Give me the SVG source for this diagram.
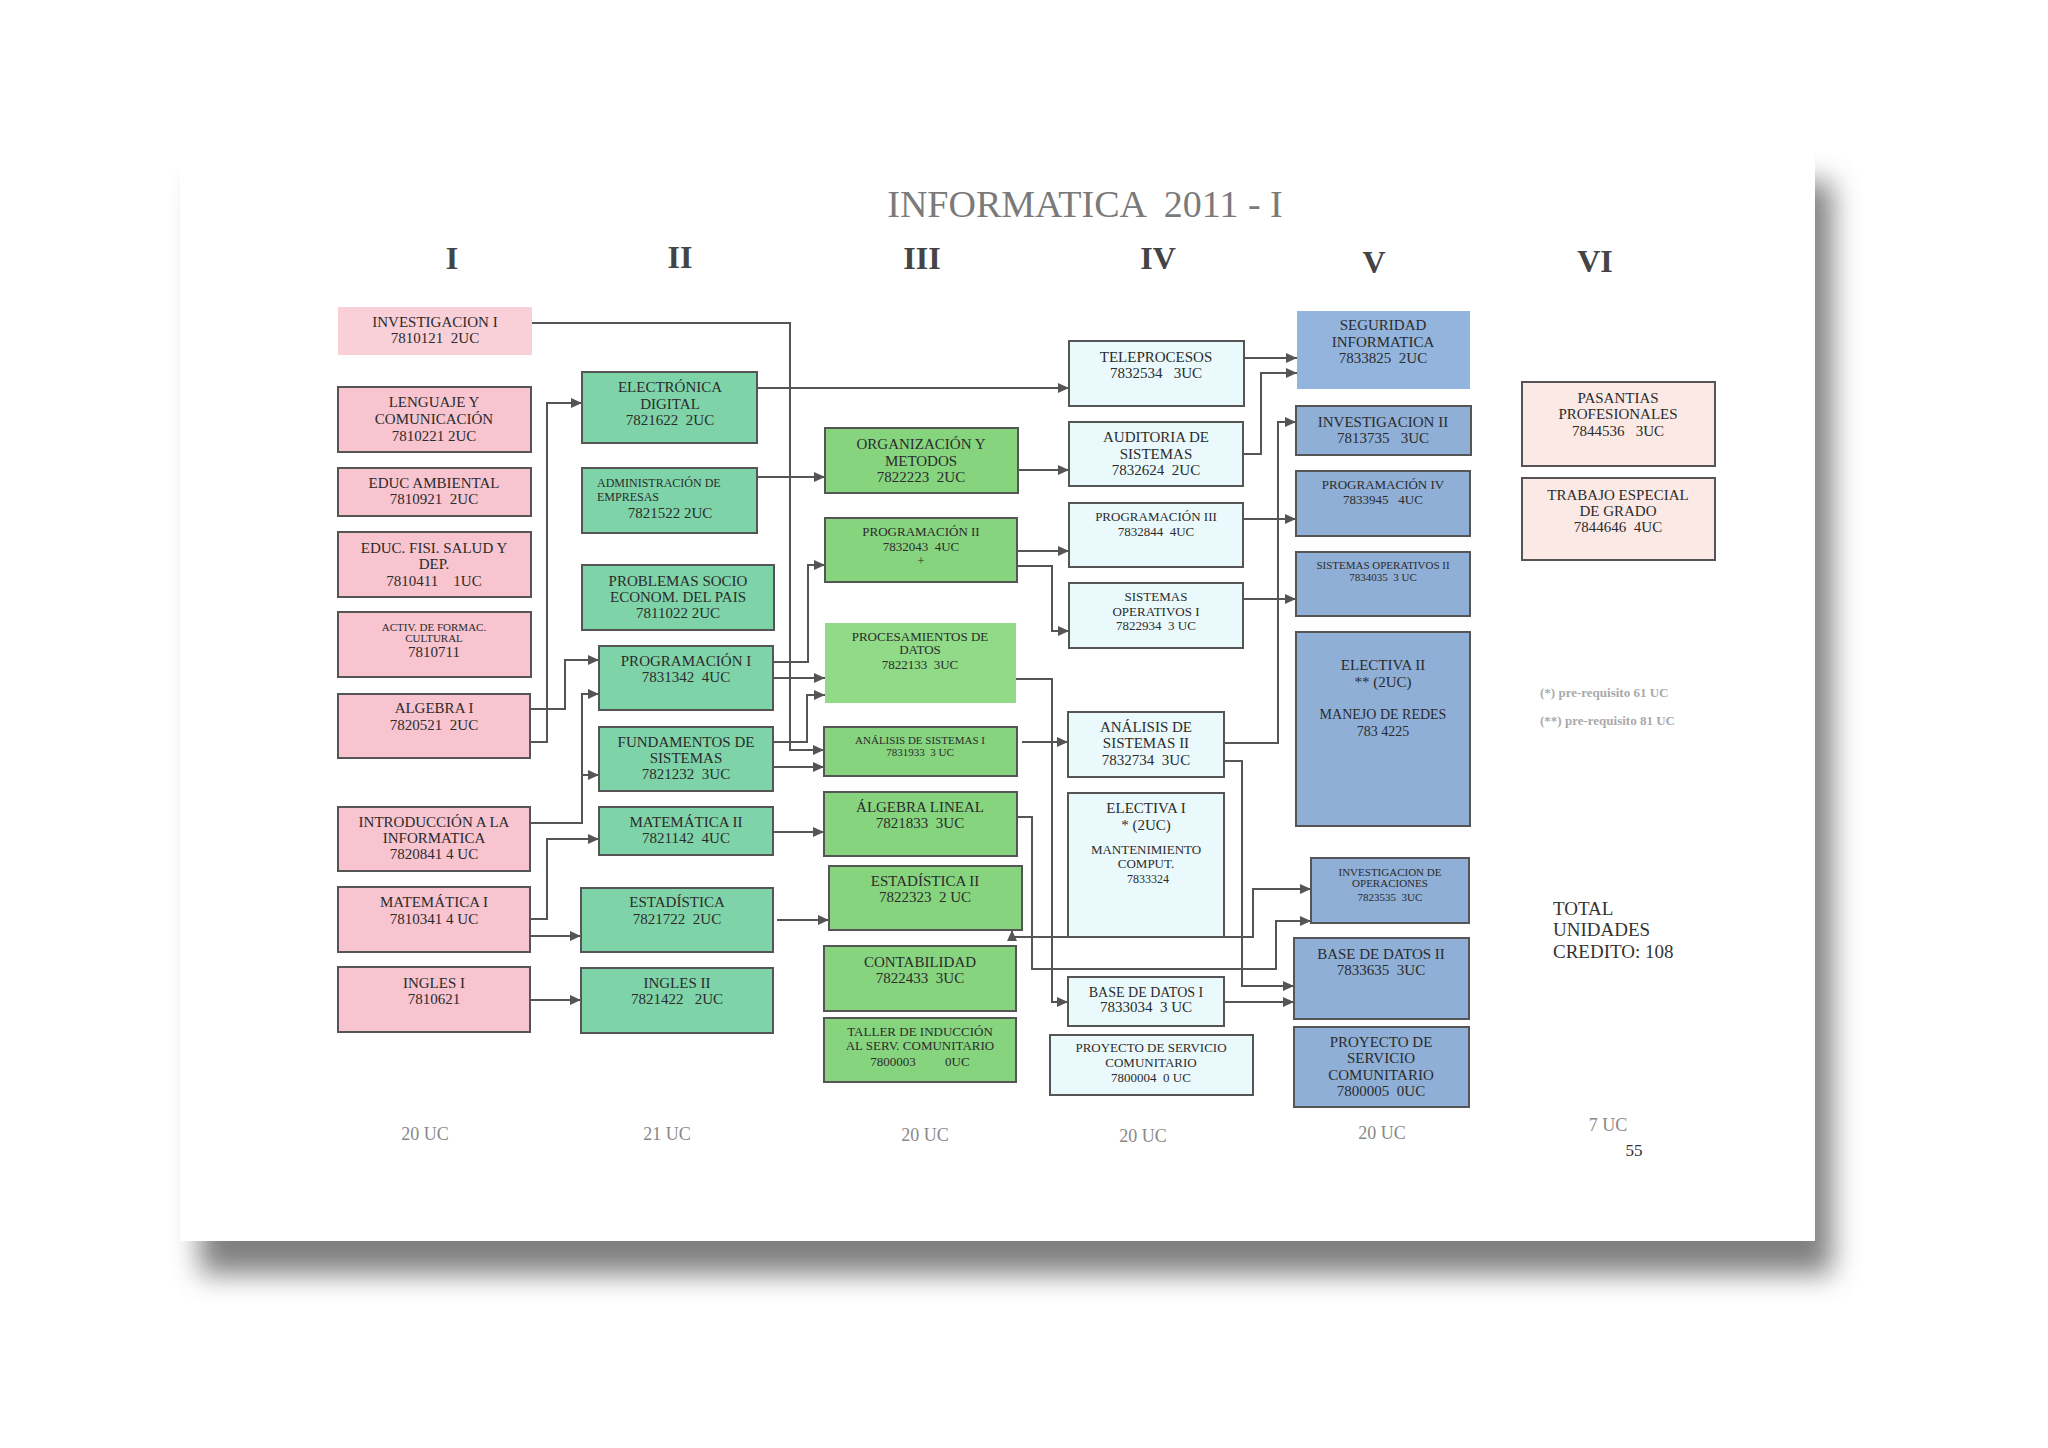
<svg xmlns="http://www.w3.org/2000/svg" width="2048" height="1448" viewBox="0 0 2048 1448">
<style>
.t{font-family:"Liberation Serif","Times New Roman",serif;fill:#2b2b2b;text-anchor:middle;font-size:15px}
.s13{font-size:13px}.s11{font-size:11px}.s12{font-size:12px}.s14{font-size:14px}
.l{text-anchor:start}
.b{stroke:#555;stroke-width:2}
.pk{fill:#f7c4cf}.g2{fill:#7fd3a8}.g3{fill:#87d47f}.cy{fill:#eaf9fb}.bl{fill:#8fafd7}.pe{fill:#fbe9e6}
.c{fill:none;stroke:#555;stroke-width:2}
.uc{font-family:"Liberation Serif","Times New Roman",serif;fill:#888;font-size:18px;text-anchor:middle}
.hd{font-family:"Liberation Serif","Times New Roman",serif;fill:#444;font-size:32px;font-weight:bold;text-anchor:middle}
</style>
<defs>
<marker id="ar" markerUnits="userSpaceOnUse" markerWidth="12" markerHeight="10" refX="11" refY="5" orient="auto-start-reverse"><path d="M0 0 L11 5 L0 10 Z" fill="#555"/></marker>
<filter id="sh" x="-5%" y="-5%" width="110%" height="115%"><feGaussianBlur stdDeviation="14"/></filter>
</defs>
<rect width="2048" height="1448" fill="#fff"/>
<rect x="200" y="182" width="1632" height="1092" fill="#555" opacity="0.75" filter="url(#sh)"/>
<rect x="180" y="148" width="1635" height="1093" fill="#fff"/>
<text x="1085" y="217" font-family="Liberation Serif, Times New Roman, serif" font-size="38" fill="#7a7a7a" text-anchor="middle" xml:space="preserve">INFORMATICA  2011 - I</text>
<text class="hd" x="452" y="269">I</text>
<text class="hd" x="680" y="268">II</text>
<text class="hd" x="922" y="269">III</text>
<text class="hd" x="1158" y="269">IV</text>
<text class="hd" x="1374" y="273">V</text>
<text class="hd" x="1595" y="272">VI</text>

<g id="connectors">
<path class="c" marker-end="url(#ar)" d="M532 323 H790 V750 H824"/>
<path class="c" marker-end="url(#ar)" d="M757 388 H1069"/>
<path class="c" marker-end="url(#ar)" d="M757 477 H825"/>
<path class="c" marker-end="url(#ar)" d="M530 742 H547 V403 H582"/>
<path class="c" marker-end="url(#ar)" d="M530 709 H565 V660 H599"/>
<path class="c" marker-end="url(#ar)" d="M530 823 H582 V694 H599"/>
<path class="c" marker-end="url(#ar)" d="M582 775 H599"/>
<path class="c" marker-end="url(#ar)" d="M530 919 H547 V839 H599"/>
<path class="c" marker-end="url(#ar)" d="M530 936 H581"/>
<path class="c" marker-end="url(#ar)" d="M530 1000 H581"/>
<path class="c" marker-end="url(#ar)" d="M773 662 H808 V565 H825"/>
<path class="c" marker-end="url(#ar)" d="M773 678 H825"/>
<path class="c" marker-end="url(#ar)" d="M773 742 H807 V695 H825"/>
<path class="c" marker-end="url(#ar)" d="M773 767 H824"/>
<path class="c" marker-end="url(#ar)" d="M773 832 H824"/>
<path class="c" marker-end="url(#ar)" d="M777 920 H829"/>
<path class="c" marker-end="url(#ar)" d="M1018 470 H1069"/>
<path class="c" marker-end="url(#ar)" d="M1017 551 H1069"/>
<path class="c" marker-end="url(#ar)" d="M1017 566 H1052 V631 H1069"/>
<path class="c" marker-end="url(#ar)" d="M1016 679 H1052 V1002 H1068"/>
<path class="c" marker-end="url(#ar)" d="M1022 742 H1068"/>
<path class="c" marker-end="url(#ar)" d="M1017 817 H1032 V969 H1276 V921 H1311"/>
<path class="c" marker-start="url(#ar)" marker-end="url(#ar)" d="M1012 930 V937 H1253 V889 H1311"/>
<path class="c" marker-end="url(#ar)" d="M1244 358 H1297"/>
<path class="c" marker-end="url(#ar)" d="M1243 454 H1261 V373 H1297"/>
<path class="c" marker-end="url(#ar)" d="M1243 519 H1296"/>
<path class="c" marker-end="url(#ar)" d="M1243 599 H1296"/>
<path class="c" marker-end="url(#ar)" d="M1224 743 H1278 V422 H1296"/>
<path class="c" marker-end="url(#ar)" d="M1224 761 H1242 V986 H1294"/>
<path class="c" marker-end="url(#ar)" d="M1224 1002 H1294"/>
</g>

<g id="inv1"><rect x="338" y="307" width="194" height="48" fill="#f9cfd8"/><text class="t" x="435" y="327">INVESTIGACION I</text><text class="t" x="435" y="343" xml:space="preserve">7810121  2UC</text></g>
<g id="leng"><rect class="b pk" x="338" y="387" width="193" height="65"/><text class="t" x="434" y="407">LENGUAJE Y</text><text class="t" x="434" y="424">COMUNICACIÓN</text><text class="t" x="434" y="441">7810221 2UC</text></g>
<g id="amb"><rect class="b pk" x="338" y="468" width="193" height="48"/><text class="t" x="434" y="488">EDUC AMBIENTAL</text><text class="t" x="434" y="504" xml:space="preserve">7810921  2UC</text></g>
<g id="fis"><rect class="b pk" x="338" y="532" width="193" height="65"/><text class="t" x="434" y="553">EDUC. FISI. SALUD Y</text><text class="t" x="434" y="569">DEP.</text><text class="t" x="434" y="586" xml:space="preserve">7810411    1UC</text></g>
<g id="act"><rect class="b pk" x="338" y="612" width="193" height="65"/><text class="t s11" x="434" y="631">ACTIV. DE FORMAC.</text><text class="t s11" x="434" y="642">CULTURAL</text><text class="t" x="434" y="657">7810711</text></g>
<g id="alg"><rect class="b pk" x="338" y="694" width="192" height="64"/><text class="t" x="434" y="713">ALGEBRA I</text><text class="t" x="434" y="730" xml:space="preserve">7820521  2UC</text></g>
<g id="intro"><rect class="b pk" x="338" y="807" width="192" height="64"/><text class="t" x="434" y="827">INTRODUCCIÓN A LA</text><text class="t" x="434" y="843">INFORMATICA</text><text class="t" x="434" y="859">7820841 4 UC</text></g>
<g id="mat1"><rect class="b pk" x="338" y="887" width="192" height="65"/><text class="t" x="434" y="907">MATEMÁTICA I</text><text class="t" x="434" y="924">7810341 4 UC</text></g>
<g id="ing1"><rect class="b pk" x="338" y="967" width="192" height="65"/><text class="t" x="434" y="988">INGLES I</text><text class="t" x="434" y="1004">7810621</text></g>

<g id="elec"><rect class="b g2" x="582" y="372" width="175" height="71"/><text class="t" x="670" y="392">ELECTRÓNICA</text><text class="t" x="670" y="409">DIGITAL</text><text class="t" x="670" y="425" xml:space="preserve">7821622  2UC</text></g>
<g id="adm"><rect class="b g2" x="582" y="468" width="175" height="65"/><text class="t s12 l" x="597" y="487">ADMINISTRACIÓN DE</text><text class="t s12 l" x="597" y="501">EMPRESAS</text><text class="t" x="670" y="518">7821522 2UC</text></g>
<g id="prob"><rect class="b g2" x="582" y="565" width="192" height="65"/><text class="t" x="678" y="586">PROBLEMAS SOCIO</text><text class="t" x="678" y="602">ECONOM. DEL PAIS</text><text class="t" x="678" y="618">7811022 2UC</text></g>
<g id="prog1"><rect class="b g2" x="599" y="646" width="174" height="64"/><text class="t" x="686" y="666">PROGRAMACIÓN I</text><text class="t" x="686" y="682" xml:space="preserve">7831342  4UC</text></g>
<g id="fund"><rect class="b g2" x="599" y="727" width="174" height="64"/><text class="t" x="686" y="747">FUNDAMENTOS DE</text><text class="t" x="686" y="763">SISTEMAS</text><text class="t" x="686" y="779" xml:space="preserve">7821232  3UC</text></g>
<g id="mat2"><rect class="b g2" x="599" y="807" width="174" height="48"/><text class="t" x="686" y="827">MATEMÁTICA II</text><text class="t" x="686" y="843" xml:space="preserve">7821142  4UC</text></g>
<g id="est"><rect class="b g2" x="581" y="888" width="192" height="64"/><text class="t" x="677" y="907">ESTADÍSTICA</text><text class="t" x="677" y="924" xml:space="preserve">7821722  2UC</text></g>
<g id="ing2"><rect class="b g2" x="581" y="968" width="192" height="65"/><text class="t" x="677" y="988">INGLES II</text><text class="t" x="677" y="1004" xml:space="preserve">7821422   2UC</text></g>

<g id="org"><rect class="b g3" x="825" y="428" width="193" height="65"/><text class="t" x="921" y="449">ORGANIZACIÓN Y</text><text class="t" x="921" y="466">METODOS</text><text class="t" x="921" y="482" xml:space="preserve">7822223  2UC</text></g>
<g id="prog2"><rect class="b g3" x="825" y="518" width="192" height="64"/><text class="t s13" x="921" y="536">PROGRAMACIÓN II</text><text class="t s13" x="921" y="551" xml:space="preserve">7832043  4UC</text><text class="t s13" x="921" y="565">+</text></g>
<g id="proc"><rect x="825" y="623" width="191" height="80" fill="#90da88"/><text class="t s13" x="920" y="641">PROCESAMIENTOS DE</text><text class="t s13" x="920" y="654">DATOS</text><text class="t s13" x="920" y="669" xml:space="preserve">7822133  3UC</text></g>
<g id="anal1"><rect class="b g3" x="824" y="727" width="193" height="49"/><text class="t s11" x="920" y="744">ANÁLISIS DE SISTEMAS I</text><text class="t s11" x="920" y="756" xml:space="preserve">7831933  3 UC</text></g>
<g id="alin"><rect class="b g3" x="824" y="792" width="193" height="64"/><text class="t" x="920" y="812">ÁLGEBRA LINEAL</text><text class="t" x="920" y="828" xml:space="preserve">7821833  3UC</text></g>
<g id="est2"><rect class="b g3" x="829" y="866" width="193" height="64"/><text class="t" x="925" y="886">ESTADÍSTICA II</text><text class="t" x="925" y="902" xml:space="preserve">7822323  2 UC</text></g>
<g id="cont"><rect class="b g3" x="824" y="946" width="192" height="65"/><text class="t" x="920" y="967">CONTABILIDAD</text><text class="t" x="920" y="983" xml:space="preserve">7822433  3UC</text></g>
<g id="taller"><rect class="b g3" x="824" y="1018" width="192" height="64"/><text class="t s13" x="920" y="1036">TALLER DE INDUCCIÓN</text><text class="t s13" x="920" y="1050">AL SERV. COMUNITARIO</text><text class="t s13" x="920" y="1066" xml:space="preserve">7800003         0UC</text></g>

<g id="tele"><rect class="b cy" x="1069" y="341" width="175" height="65"/><text class="t" x="1156" y="362">TELEPROCESOS</text><text class="t" x="1156" y="378" xml:space="preserve">7832534   3UC</text></g>
<g id="audit"><rect class="b cy" x="1069" y="422" width="174" height="64"/><text class="t" x="1156" y="442">AUDITORIA DE</text><text class="t" x="1156" y="459">SISTEMAS</text><text class="t" x="1156" y="475" xml:space="preserve">7832624  2UC</text></g>
<g id="prog3"><rect class="b cy" x="1069" y="503" width="174" height="64"/><text class="t s13" x="1156" y="521">PROGRAMACIÓN III</text><text class="t s13" x="1156" y="536" xml:space="preserve">7832844  4UC</text></g>
<g id="so1"><rect class="b cy" x="1069" y="583" width="174" height="65"/><text class="t s13" x="1156" y="601">SISTEMAS</text><text class="t s13" x="1156" y="616">OPERATIVOS I</text><text class="t s13" x="1156" y="630" xml:space="preserve">7822934  3 UC</text></g>
<g id="anal2"><rect class="b cy" x="1068" y="712" width="156" height="65"/><text class="t" x="1146" y="732">ANÁLISIS DE</text><text class="t" x="1146" y="748">SISTEMAS II</text><text class="t" x="1146" y="765" xml:space="preserve">7832734  3UC</text></g>
<g id="elec1"><rect class="b cy" x="1068" y="793" width="156" height="144"/><text class="t" x="1146" y="813">ELECTIVA I</text><text class="t" x="1146" y="830">* (2UC)</text><text class="t s13" x="1146" y="854">MANTENIMIENTO</text><text class="t s13" x="1146" y="868">COMPUT.</text><text class="t s12" x="1148" y="883">7833324</text></g>
<g id="bd1"><rect class="b cy" x="1068" y="977" width="156" height="49"/><text class="t s14" x="1146" y="997">BASE DE DATOS I</text><text class="t" x="1146" y="1012" xml:space="preserve">7833034  3 UC</text></g>
<g id="proy4"><rect class="b cy" x="1050" y="1035" width="203" height="60"/><text class="t s13" x="1151" y="1052">PROYECTO DE SERVICIO</text><text class="t s13" x="1151" y="1067">COMUNITARIO</text><text class="t s13" x="1151" y="1082" xml:space="preserve">7800004  0 UC</text></g>

<g id="seg"><rect x="1297" y="311" width="173" height="78" fill="#93b4dc"/><text class="t" x="1383" y="330">SEGURIDAD</text><text class="t" x="1383" y="347">INFORMATICA</text><text class="t" x="1383" y="363" xml:space="preserve">7833825  2UC</text></g>
<g id="inv2"><rect class="b bl" x="1296" y="406" width="175" height="49"/><text class="t" x="1383" y="427">INVESTIGACION II</text><text class="t" x="1383" y="443" xml:space="preserve">7813735   3UC</text></g>
<g id="prog4"><rect class="b bl" x="1296" y="471" width="174" height="65"/><text class="t s13" x="1383" y="489">PROGRAMACIÓN IV</text><text class="t s13" x="1383" y="504" xml:space="preserve">7833945   4UC</text></g>
<g id="so2"><rect class="b bl" x="1296" y="552" width="174" height="64"/><text class="t s11" x="1383" y="569">SISTEMAS OPERATIVOS II</text><text class="t s11" x="1383" y="581" xml:space="preserve">7834035  3 UC</text></g>
<g id="elec2"><rect class="b bl" x="1296" y="632" width="174" height="194"/><text class="t" x="1383" y="670">ELECTIVA II</text><text class="t" x="1383" y="687">** (2UC)</text><text class="t s14" x="1383" y="719">MANEJO DE REDES</text><text class="t s14" x="1383" y="736">783 4225</text></g>
<g id="invop"><rect class="b bl" x="1311" y="858" width="158" height="65"/><text class="t s11" x="1390" y="876">INVESTIGACION DE</text><text class="t s11" x="1390" y="887">OPERACIONES</text><text class="t s11" x="1390" y="901" xml:space="preserve">7823535  3UC</text></g>
<g id="bd2"><rect class="b bl" x="1294" y="938" width="175" height="81"/><text class="t" x="1381" y="959">BASE DE DATOS II</text><text class="t" x="1381" y="975" xml:space="preserve">7833635  3UC</text></g>
<g id="proy5"><rect class="b bl" x="1294" y="1027" width="175" height="80"/><text class="t" x="1381" y="1047">PROYECTO DE</text><text class="t" x="1381" y="1063">SERVICIO</text><text class="t" x="1381" y="1080">COMUNITARIO</text><text class="t" x="1381" y="1096" xml:space="preserve">7800005  0UC</text></g>

<g id="pas"><rect class="b pe" x="1522" y="382" width="193" height="84"/><text class="t" x="1618" y="403">PASANTIAS</text><text class="t" x="1618" y="419">PROFESIONALES</text><text class="t" x="1618" y="436" xml:space="preserve">7844536   3UC</text></g>
<g id="teg"><rect class="b pe" x="1522" y="478" width="193" height="82"/><text class="t" x="1618" y="500">TRABAJO ESPECIAL</text><text class="t" x="1618" y="516">DE GRADO</text><text class="t" x="1618" y="532" xml:space="preserve">7844646  4UC</text></g>

<g font-family="Liberation Serif, Times New Roman, serif" font-size="13" font-weight="bold" fill="#aaa">
<text x="1540" y="697">(*) pre-requisito 61 UC</text>
<text x="1540" y="725">(**) pre-requisito 81 UC</text>
</g>
<g font-family="Liberation Serif, Times New Roman, serif" font-size="19" fill="#333">
<text x="1553" y="915">TOTAL</text>
<text x="1553" y="936">UNIDADES</text>
<text x="1553" y="958">CREDITO: 108</text>
</g>
<text class="uc" x="425" y="1140">20 UC</text>
<text class="uc" x="667" y="1140">21 UC</text>
<text class="uc" x="925" y="1141">20 UC</text>
<text class="uc" x="1143" y="1142">20 UC</text>
<text class="uc" x="1382" y="1139">20 UC</text>
<text class="uc" x="1608" y="1131">7 UC</text>
<text x="1634" y="1156" font-family="Liberation Serif, Times New Roman, serif" font-size="17" fill="#333" text-anchor="middle">55</text>
</svg>
